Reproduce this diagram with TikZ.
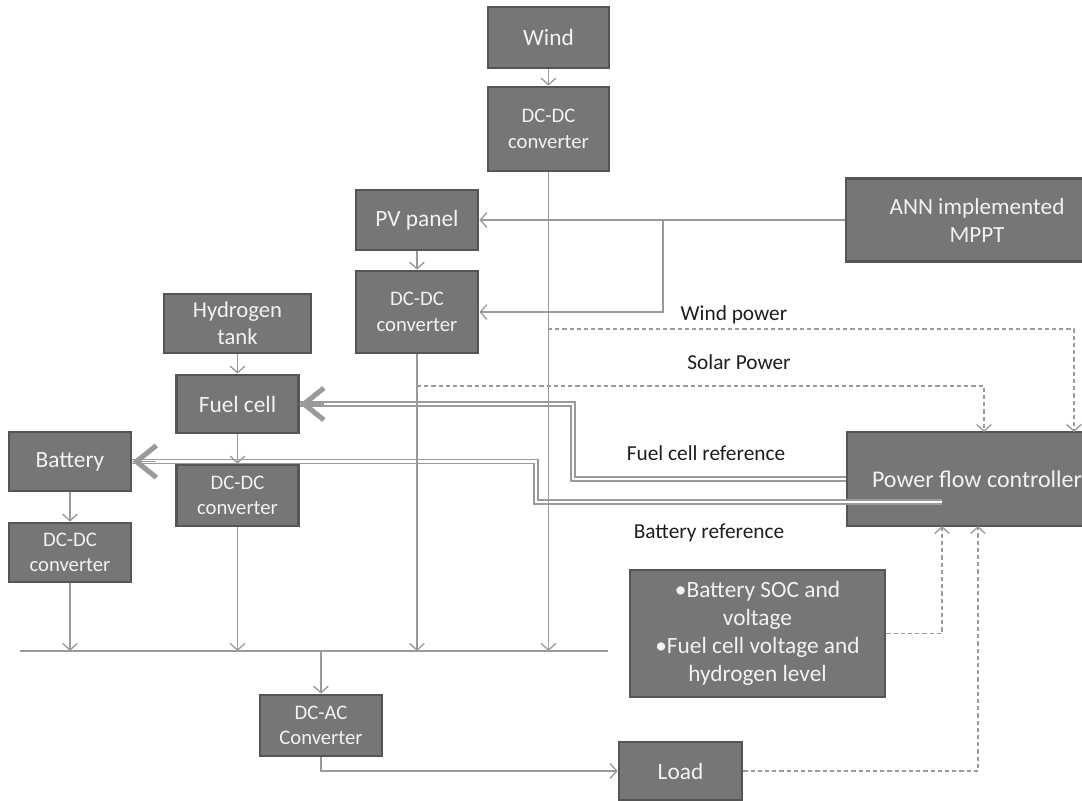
\documentclass[tikz,border=0pt]{standalone}
\usepackage{fontspec}
\setmainfont{Carlito}
\usetikzlibrary{arrows.meta}
\definecolor{boxfill}{HTML}{767676}
\definecolor{boxline}{HTML}{555555}
\definecolor{boxtext}{HTML}{F2F2F2}
\definecolor{linegray}{HTML}{9A9A9A}
\definecolor{labeltxt}{HTML}{1E1E1E}
\newcommand{\px}{0.75pt}
\tikzset{
  blk/.style={draw=boxline, fill=boxfill, line width=2pt, text=boxtext, align=center,
    font=\fontsize{17.5}{20}\selectfont, inner sep=2pt},
  two/.style={font=\fontsize{15.5}{19}\selectfont},
  ln/.style={draw=linegray, line width=1pt, -{Straight Barb[length=5pt,width=11pt]}},
  dsh/.style={ln, dash pattern=on 3.2pt off 2.2pt},
  dbl/.style={draw=linegray, line width=1.1pt, double=white, double distance=1.6pt},
  bigtip/.style={draw=linegray, line width=1pt, -{Straight Barb[length=15pt,width=24pt,line width=3.8pt]}},
  lbl/.style={text=labeltxt, font=\fontsize{16}{18}\selectfont}
}
\begin{document}
\begin{tikzpicture}[x=\px, y=-\px]
  \useasboundingbox (0,0) rectangle (1082,800);
  % sources and converters
  \node[blk, minimum width=121*\px, minimum height=61*\px] (wind) at (548.5,37.5) {Wind};
  \node[blk, two, minimum width=121*\px, minimum height=84*\px] (dcw) at (548.5,129) {DC-DC\\converter};
  \node[blk, minimum width=122*\px, minimum height=60*\px] (pv) at (417,220) {PV panel};
  \node[blk, two, minimum width=122*\px, minimum height=82*\px] (dcpv) at (417,312) {DC-DC\\converter};
  \node[blk, minimum width=147*\px, minimum height=59*\px, font=\fontsize{17}{20}\selectfont] (h2) at (237.5,323.5) {Hydrogen\\tank};
  \node[blk, minimum width=122*\px, minimum height=58*\px] (fc) at (237.5,404) {Fuel cell};
  \node[blk, two, minimum width=122*\px, minimum height=61*\px] (dcfc) at (237.5,495.5) {DC-DC\\converter};
  \node[blk, minimum width=122*\px, minimum height=59*\px] (bat) at (70,461.5) {Battery};
  \node[blk, two, minimum width=122*\px, minimum height=59*\px] (dcbat) at (70,552.5) {DC-DC\\converter};
  \node[blk, two, minimum width=122*\px, minimum height=61*\px] (dcac) at (321,725.5) {DC-AC\\Converter};
  \node[blk, minimum width=123*\px, minimum height=58*\px] (load) at (680.5,771) {Load};
  % controllers
  \node[blk, minimum width=262*\px, minimum height=83*\px, font=\fontsize{17.4}{21}\selectfont] (ann) at (977,220) {ANN implemented\\MPPT};
  \node[blk, minimum width=260*\px, minimum height=94*\px, font=\fontsize{18}{21}\selectfont] (pfc) at (977,479) {Power flow controller};
  \node[blk, minimum width=255*\px, minimum height=127*\px, font=\fontsize{17.5}{21}\selectfont] (info) at (757.5,633.5)
    {\textbullet Battery SOC and\\voltage\\\textbullet Fuel cell voltage and\\hydrogen level};
  % bus and bends
  \coordinate (busL) at (20,651);
  \coordinate (busR) at (608,651);
  \coordinate (mp) at (663,220);
  \coordinate (wp) at (548,329);
  \coordinate (wpin) at (1074,432);
  \coordinate (sp) at (417,386);
  \coordinate (spin) at (984,432);
  \coordinate (fcbend) at (573,404);
  \coordinate (brs) at (942,502);
  \coordinate (bbend) at (536,461.5);
  \coordinate (iin) at (942,526);
  \coordinate (lin) at (978,526);
  % reference signals
  \draw[dbl] (pfc.west) -| (fcbend) -- (fc.east);
  \draw[dbl] (brs) -| (bbend) -- (bat.east);
  \draw[bigtip] ([xshift=18pt]fc.east) -- (fc.east);
  \draw[bigtip] ([xshift=18pt]bat.east) -- (bat.east);
  % power lines
  \draw[ln] (wind) -- (dcw);
  \draw[ln] (dcw) -- (dcw |- busL);
  \draw[ln] (pv) -- (dcpv);
  \draw[ln] (dcpv) -- (dcpv |- busL);
  \draw[ln] (h2) -- (fc);
  \draw[ln] (fc) -- (dcfc);
  \draw[ln] (dcfc) -- (dcfc |- busL);
  \draw[ln] (bat) -- (dcbat);
  \draw[ln] (dcbat) -- (dcbat |- busL);
  \draw[draw=linegray, line width=1pt] (busL) -- (busR);
  \draw[ln] (dcac |- busL) -- (dcac);
  \draw[ln] (dcac.south) |- (load);
  \draw[ln] (ann) -- (pv);
  \draw[ln] (mp) |- (dcpv);
  % measured signals
  \draw[dsh] (wp) -| (wpin);
  \draw[dsh] (sp) -| (spin);
  \draw[dsh] (info) -| (iin);
  \draw[dsh] (load) -| (lin);
  % labels
  \node[lbl] (lwind) at (734,315) {Wind power};
  \node[lbl] (lsolar) at (739,362) {Solar Power};
  \node[lbl] (lfc) at (706,453) {Fuel cell reference};
  \node[lbl] (lbat) at (709,533) {Battery reference};
\end{tikzpicture}
\end{document}
